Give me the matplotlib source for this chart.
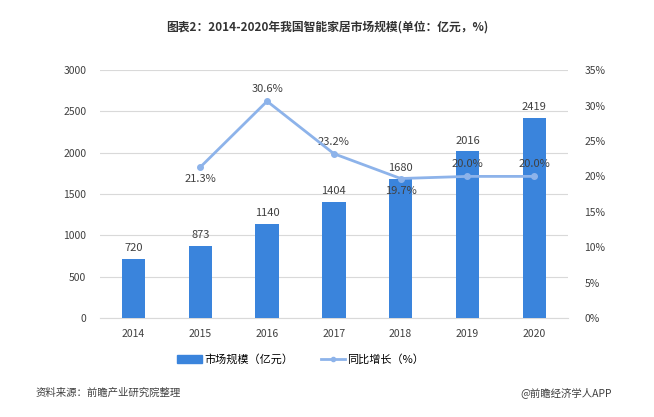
import numpy as np
import matplotlib.pyplot as plt
from matplotlib.ticker import FuncFormatter
from matplotlib.lines import Line2D
from matplotlib.patches import Patch

plt.rcParams['font.family'] = ['Noto Sans CJK SC', 'DejaVu Sans']

# ----- Data -----
years = ['2014', '2015', '2016', '2017', '2018', '2019', '2020']
market_size = [720, 873, 1140, 1404, 1680, 2016, 2419]
growth_years = ['2015', '2016', '2017', '2018', '2019', '2020']
growth_rate = [21.3, 30.6, 23.2, 19.7, 20.0, 20.0]
growth_label_pos = ['below', 'above', 'above', 'below', 'above', 'above']

bar_color = '#3a84dc'
line_color = '#8db3ea'
text_color = '#404040'

fig = plt.figure(figsize=(6.54, 4.17), dpi=100)
ax = fig.add_axes([0.153, 0.237, 0.715, 0.595])
ax2 = ax.twinx()

x = np.arange(len(years))
ax.bar(x, market_size, width=0.35, color=bar_color, zorder=3)
for xi, v in zip(x, market_size):
    ax.text(xi, v + 70, str(v), ha='center', va='bottom', fontsize=8, color=text_color)

gx = np.array([years.index(y) for y in growth_years])
ax2.plot(gx, growth_rate, color=line_color, lw=2, marker='o', ms=4, zorder=4)
for xi, v, pos in zip(gx, growth_rate, growth_label_pos):
    if pos == 'above':
        ax2.text(xi, v + 1.0, f'{v:.1f}%', ha='center', va='bottom', fontsize=8, color=text_color)
    else:
        ax2.text(xi, v - 1.0, f'{v:.1f}%', ha='center', va='top', fontsize=8, color=text_color)

ax.set_xlim(-0.5, len(years) - 0.5)
ax.set_ylim(0, 3000)
ax.set_yticks(np.arange(0, 3001, 500))
ax2.set_ylim(0, 35)
ax2.set_yticks(np.arange(0, 36, 5))
ax2.yaxis.set_major_formatter(FuncFormatter(lambda v, p: f'{int(v)}%'))
ax.set_xticks(x)
ax.set_xticklabels(years)

ax.grid(axis='y', color='#d9d9d9', lw=0.8, zorder=0)
for a in (ax, ax2):
    for s in a.spines.values():
        s.set_visible(False)
    a.tick_params(length=0, labelsize=7.5, colors=text_color)
ax.spines['bottom'].set_visible(True)
ax.spines['bottom'].set_color('#d9d9d9')
ax.tick_params(axis='x', pad=8)
ax.tick_params(axis='y', pad=10)
ax2.tick_params(axis='y', pad=12)

fig.text(0.5, 0.935, '图表2：2014-2020年我国智能家居市场规模(单位：亿元，%)',
         ha='center', va='center', fontsize=8.5, fontweight='bold', color='#333333')

handles = [Patch(color=bar_color),
           Line2D([0], [0], color=line_color, lw=2, marker='o', ms=3)]
fig.legend(handles, ['市场规模（亿元）', '同比增长（%）'], loc='center',
           bbox_to_anchor=(0.46, 0.137), ncol=2, frameon=False, fontsize=8,
           handlelength=2.2, columnspacing=2.5, handletextpad=0.2)

fig.text(0.055, 0.058, '资料来源：前瞻产业研究院整理', ha='left', va='center',
         fontsize=7.5, color=text_color)
fig.text(0.935, 0.058, '@前瞻经济学人APP', ha='right', va='center',
         fontsize=7.5, color=text_color)

fig.savefig('out.png', dpi=100)
